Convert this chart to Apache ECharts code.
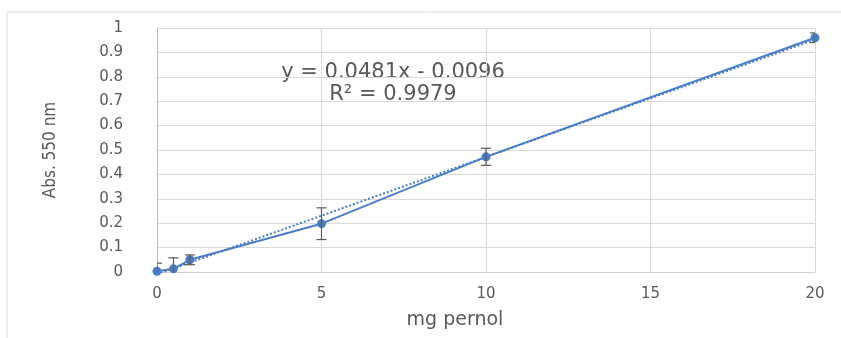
<!DOCTYPE html>
<html>
<head>
<meta charset="utf-8">
<style>
  html, body { margin: 0; padding: 0; background: #fff; }
  #chart { width: 841px; height: 338px; }
</style>
<script src="https://cdn.jsdelivr.net/npm/echarts@6/dist/echarts.min.js"></script>
</head>
<body>
<div id="chart"></div>
<script>
// measured points (mg pernol vs absorbance) with error bars
const xValues = [0, 0.5, 1, 5, 10, 20]
const yValues = [0.003, 0.013, 0.05, 0.198, 0.472, 0.96]
const yErrors = [0.033, 0.045, 0.02, 0.065, 0.035, 0.02]

// linear trendline endpoints (y = 0.0481x - 0.0096)
const trendX = [0, 20]
const trendY = [-0.0096, 0.9524]

const equationText = 'y = 0.0481x - 0.0096'
const r2Text = 'R² = 0.9979'

const blue = '#4a7dc4'
const grey = '#595959'

const chart = echarts.init(document.getElementById('chart'))

const points = xValues.map((x, i) => [x, yValues[i]])
const errData = xValues.map((x, i) => [x, yValues[i] - yErrors[i], yValues[i] + yErrors[i]])
const trendData = trendX.map((x, i) => [x, trendY[i]])

chart.setOption({
  animation: false,
  grid: { left: 157, right: 26, top: 28, bottom: 66 },
  xAxis: {
    type: 'value',
    min: 0,
    max: 20,
    interval: 5,
    axisLine: { show: true, lineStyle: { color: '#d0d0d0' } },
    axisTick: { show: false },
    splitLine: { show: true, lineStyle: { color: '#d9d9d9' } },
    axisLabel: { color: grey, fontFamily: 'DejaVu Sans', fontSize: 15, margin: 15 }
  },
  yAxis: {
    type: 'value',
    min: 0,
    max: 1,
    interval: 0.1,
    name: 'Abs. 550 nm',
    nameLocation: 'middle',
    nameGap: 98,
    nameTextStyle: { color: grey, fontFamily: '"DejaVu Sans Condensed", "Liberation Sans Narrow", sans-serif', fontSize: 17 },
    axisLine: { show: true, lineStyle: { color: '#bfbfbf' } },
    axisTick: { show: false },
    splitLine: { show: true, lineStyle: { color: '#d9d9d9' } },
    axisLabel: { color: grey, fontFamily: 'DejaVu Sans', fontSize: 15, margin: 34 }
  },
  graphic: [
    {
      type: 'rect',
      shape: { x: 7, y: 12, width: 900, height: 400 },
      style: { fill: 'none', stroke: '#d9d9d9', lineWidth: 1 },
      silent: true
    },
    {
      type: 'text',
      x: 455, y: 320,
      style: { text: 'mg pernol', fill: grey, font: '19px "DejaVu Sans"', align: 'center', verticalAlign: 'middle' }
    },
    {
      type: 'text',
      x: 393, y: 73,
      style: { text: equationText, fill: grey, font: '21px "DejaVu Sans"', align: 'center', verticalAlign: 'middle' }
    },
    {
      type: 'text',
      x: 393, y: 95,
      style: { text: r2Text, fill: grey, font: '21px "DejaVu Sans"', align: 'center', verticalAlign: 'middle' }
    }
  ],
  series: [
    {
      type: 'line',
      data: trendData,
      symbol: 'none',
      lineStyle: { color: blue, width: 2, type: 'dotted' },
      z: 2
    },
    {
      type: 'line',
      data: points,
      symbol: 'circle',
      symbolSize: 9,
      itemStyle: { color: blue },
      lineStyle: { color: blue, width: 2 },
      z: 3
    },
    {
      type: 'custom',
      data: errData,
      clip: true,
      z: 4,
      renderItem(params, api) {
        const top = api.coord([api.value(0), api.value(2)])
        const bot = api.coord([api.value(0), api.value(1)])
        const half = 5
        const style = { stroke: grey, lineWidth: 1.2 }
        return {
          type: 'group',
          children: [
            { type: 'line', shape: { x1: top[0], y1: top[1], x2: bot[0], y2: bot[1] }, style },
            { type: 'line', shape: { x1: top[0] - half, y1: top[1], x2: top[0] + half, y2: top[1] }, style },
            { type: 'line', shape: { x1: bot[0] - half, y1: bot[1], x2: bot[0] + half, y2: bot[1] }, style }
          ]
        }
      }
    }
  ]
})
</script>
</body>
</html>
